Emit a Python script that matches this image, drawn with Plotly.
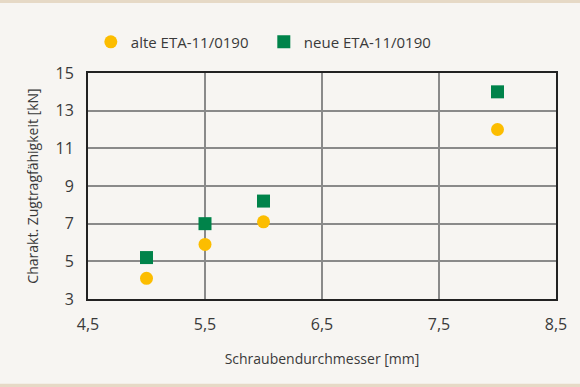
import plotly.graph_objects as go

x_vals = [5.0, 5.5, 6.0, 8.0]
alte = [4.1, 5.9, 7.1, 12.0]
neue = [5.2, 7.0, 8.2, 14.0]
x_ticks = [4.5, 5.5, 6.5, 7.5, 8.5]
x_tick_text = ["4,5", "5,5", "6,5", "7,5", "8,5"]
y_ticks = [3, 5, 7, 9, 11, 13, 15]

FONT = "Open Sans"
TXT = "#3a3a3a"

fig = go.Figure()
fig.add_trace(go.Scatter(x=x_vals, y=alte, mode="markers", name="alte ETA-11/0190",
                         marker=dict(symbol="circle", size=13, color="#fcbd00")))
fig.add_trace(go.Scatter(x=x_vals, y=neue, mode="markers", name="neue ETA-11/0190",
                         marker=dict(symbol="square", size=13, color="#00834a")))

fig.update_layout(
    width=580, height=387,
    paper_bgcolor="#f7f5f2", plot_bgcolor="#f7f5f2",
    margin=dict(l=88, r=24, t=73, b=88, autoexpand=False),
    font=dict(family=FONT, size=14, color=TXT),
    showlegend=True,
    legend=dict(orientation="h", x=0.006, xanchor="left",
                y=1.137, yanchor="middle",
                font=dict(size=15, color=TXT), bgcolor="rgba(0,0,0,0)",
                entrywidth=128, entrywidthmode="pixels", itemwidth=30),
    xaxis=dict(range=[4.5, 8.5], tickvals=x_ticks, ticktext=x_tick_text,
               tickfont=dict(size=16),
               showgrid=True, gridcolor="#8a8a8a", gridwidth=1.5,
               showline=True, linecolor="#222", linewidth=2, mirror=True,
               zeroline=False, ticks="", ticklabelstandoff=10,
               title=dict(text="Schraubendurchmesser [mm]", font=dict(size=14, color=TXT), standoff=20)),
    yaxis=dict(range=[3, 15], tickvals=y_ticks,
               tickfont=dict(size=16),
               showgrid=True, gridcolor="#8a8a8a", gridwidth=1.5,
               showline=True, linecolor="#222", linewidth=2, mirror=True,
               zeroline=False, ticks="", ticklabelstandoff=9,
               title=dict(text="Charakt. Zugtragfähigkeit [kN]", font=dict(size=14, color=TXT), standoff=14)),
    shapes=[
        dict(type="rect", xref="paper", yref="paper", x0=-0.3, x1=1.2, y0=1.31, y1=1.33,
             fillcolor="#e6d9c6", line=dict(width=0), layer="below"),
        dict(type="rect", xref="paper", yref="paper", x0=-0.3, x1=1.2, y0=-0.375, y1=-0.39,
             fillcolor="#e6d9c6", line=dict(width=0), layer="below"),
    ],
)

fig.write_html("out.html")
